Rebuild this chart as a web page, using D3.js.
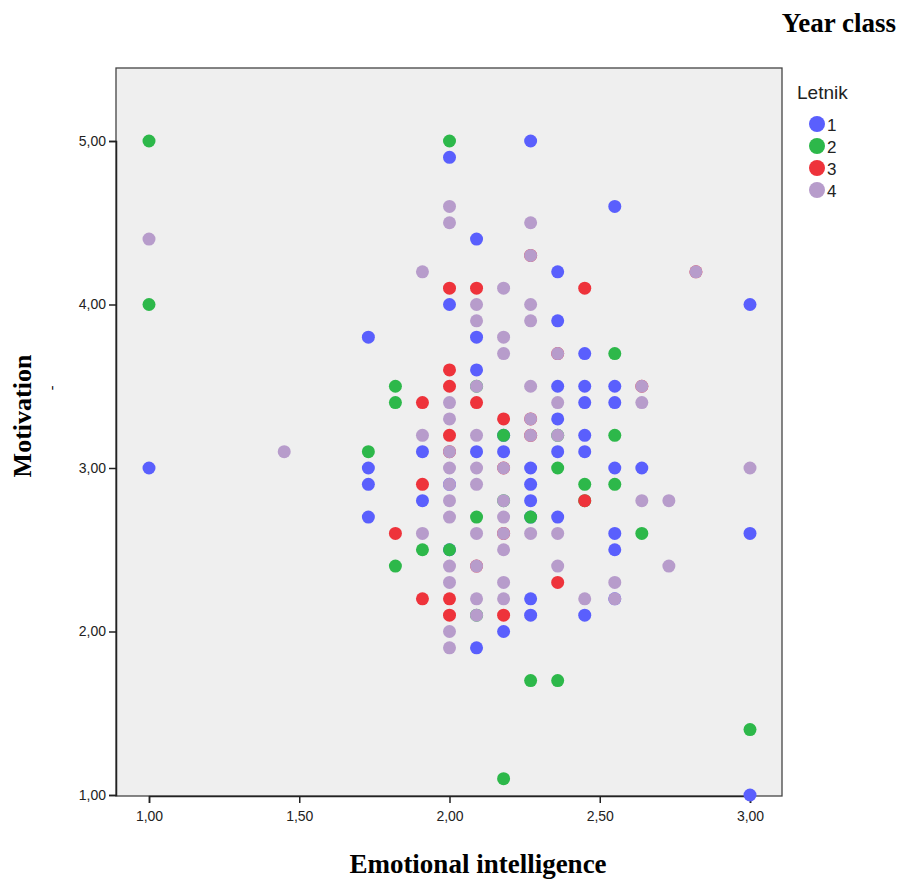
<!DOCTYPE html>
<html>
<head>
<meta charset="utf-8">
<script src="https://cdn.jsdelivr.net/npm/d3@7"></script>
<style>
  body { margin: 0; background: #fff; }
  svg { display: block; }
</style>
</head>
<body>
<div id="chart"></div>
<script>
// Emotional intelligence (x) and Motivation (y) per year class
const letnik1 = [
  [1.00,3.0],[1.73,3.8],[1.73,3.0],[1.73,2.9],[1.73,2.7],
  [1.91,3.1],[1.91,2.8],
  [2.00,4.9],[2.00,4.0],[2.00,2.9],[2.00,2.5],
  [2.09,4.4],[2.09,3.8],[2.09,3.6],[2.09,3.1],[2.09,1.9],
  [2.18,3.2],[2.18,3.1],[2.18,2.0],
  [2.27,5.0],[2.27,3.0],[2.27,2.9],[2.27,2.8],[2.27,2.7],[2.27,2.2],[2.27,2.1],
  [2.36,4.2],[2.36,3.9],[2.36,3.5],[2.36,3.3],[2.36,3.1],[2.36,2.7],
  [2.45,3.7],[2.45,3.5],[2.45,3.4],[2.45,3.2],[2.45,3.1],[2.45,2.1],
  [2.55,4.6],[2.55,3.5],[2.55,3.4],[2.55,3.0],[2.55,2.6],[2.55,2.5],[2.55,2.2],
  [2.64,3.0],
  [3.00,4.0],[3.00,2.6],[3.00,1.0]
];
const letnik2 = [
  [1.00,5.0],[1.00,4.0],
  [1.73,3.1],
  [1.82,3.5],[1.82,3.4],[1.82,2.4],
  [1.91,2.5],
  [2.00,5.0],[2.00,2.5],
  [2.09,3.5],[2.09,2.7],[2.09,2.1],
  [2.18,3.2],[2.18,2.8],[2.18,1.1],
  [2.27,2.7],[2.27,1.7],
  [2.36,3.2],[2.36,3.0],[2.36,1.7],
  [2.45,2.9],[2.45,2.8],
  [2.55,3.7],[2.55,3.2],[2.55,2.9],
  [2.64,2.6],
  [3.00,1.4]
];
const letnik3 = [
  [1.82,2.6],
  [1.91,3.4],[1.91,2.9],[1.91,2.2],
  [2.00,4.1],[2.00,3.6],[2.00,3.5],[2.00,3.2],[2.00,3.1],[2.00,2.2],[2.00,2.1],
  [2.09,4.1],[2.09,3.4],[2.09,2.4],
  [2.18,3.3],[2.18,3.0],[2.18,2.6],[2.18,2.1],
  [2.27,4.3],[2.27,3.3],[2.27,3.2],
  [2.36,3.7],[2.36,2.3],
  [2.45,4.1],[2.45,2.8],
  [2.64,3.5],
  [2.82,4.2]
];
const letnik4 = [
  [1.00,4.4],[1.45,3.1],
  [1.91,4.2],[1.91,3.2],[1.91,2.6],
  [2.00,4.6],[2.00,4.5],[2.00,3.4],[2.00,3.3],[2.00,3.1],[2.00,3.0],[2.00,2.9],
  [2.00,2.8],[2.00,2.7],[2.00,2.4],[2.00,2.3],[2.00,2.0],[2.00,1.9],
  [2.09,4.0],[2.09,3.9],[2.09,3.5],[2.09,3.2],[2.09,3.0],[2.09,2.9],[2.09,2.6],
  [2.09,2.4],[2.09,2.2],[2.09,2.1],
  [2.18,4.1],[2.18,3.8],[2.18,3.7],[2.18,3.0],[2.18,2.8],[2.18,2.7],[2.18,2.6],
  [2.18,2.5],[2.18,2.3],[2.18,2.2],
  [2.27,4.5],[2.27,4.3],[2.27,4.0],[2.27,3.9],[2.27,3.5],[2.27,3.3],[2.27,3.2],[2.27,2.6],
  [2.36,3.7],[2.36,3.4],[2.36,3.2],[2.36,2.6],[2.36,2.4],
  [2.45,2.2],
  [2.55,2.3],[2.55,2.2],
  [2.64,3.5],[2.64,3.4],[2.64,2.8],
  [2.73,2.8],[2.73,2.4],
  [2.82,4.2],
  [3.00,3.0]
];

const groupNames = ["1", "2", "3", "4"];
const groupColors = ["#5a5ffd", "#2db84a", "#ee333b", "#b79ccb"];
const xTicks = [1.0, 1.5, 2.0, 2.5, 3.0];
const yTicks = [1.0, 2.0, 3.0, 4.0, 5.0];

const width = 899, height = 881;
const frame = {left: 116, right: 782, top: 68, bottom: 796};

const svg = d3.select("#chart").append("svg")
    .attr("width", width)
    .attr("height", height);

const x = d3.scaleLinear().domain([1, 3]).range([149, 750]);
const y = d3.scaleLinear().domain([1, 5]).range([795, 141]);
const color = d3.scaleOrdinal().domain(groupNames).range(groupColors);

// plot background
svg.append("rect")
    .attr("x", frame.left)
    .attr("y", frame.top)
    .attr("width", frame.right - frame.left)
    .attr("height", frame.bottom - frame.top)
    .attr("fill", "#efefef")
    .attr("stroke", "#444")
    .attr("stroke-width", 1.3);

const fmt = d => d.toFixed(2).replace(".", ",");

// Y axis
const yAxis = svg.append("g")
    .attr("transform", `translate(${frame.left},0)`)
    .call(d3.axisLeft(y).tickValues(yTicks).tickFormat(fmt).tickSize(7).tickPadding(3));
yAxis.select(".domain").attr("stroke", "#222").attr("stroke-width", 1.5);
yAxis.selectAll(".tick line").attr("stroke", "#222").attr("stroke-width", 1.5);
yAxis.selectAll("text")
    .style("font-family", "'Liberation Sans', Arial, sans-serif")
    .style("font-size", "14px")
    .attr("fill", "#222");

// X axis
const xAxis = svg.append("g")
    .attr("transform", `translate(0,${frame.bottom})`)
    .call(d3.axisBottom(x).tickValues(xTicks).tickFormat(fmt).tickSize(7).tickPadding(8));
xAxis.select(".domain").attr("stroke", "#222").attr("stroke-width", 1.5);
xAxis.selectAll(".tick line").attr("stroke", "#222").attr("stroke-width", 1.5);
xAxis.selectAll("text")
    .style("font-family", "'Liberation Sans', Arial, sans-serif")
    .style("font-size", "14px")
    .attr("fill", "#222");

// points, drawn group by group
const series = [letnik1, letnik2, letnik3, letnik4];
series.forEach((pts, i) => {
    svg.append("g")
        .selectAll("circle")
        .data(pts)
        .enter()
        .append("circle")
        .attr("cx", d => x(d[0]))
        .attr("cy", d => y(d[1]))
        .attr("r", 6.5)
        .attr("fill", color(groupNames[i]));
});

// legend
const legend = svg.append("g")
    .attr("transform", "translate(797,0)");
legend.append("text")
    .attr("x", 0)
    .attr("y", 99)
    .style("font-family", "'Liberation Sans', Arial, sans-serif")
    .style("font-size", "19px")
    .attr("fill", "#222")
    .text("Letnik");
const items = legend.selectAll(".legend-item")
    .data(groupNames)
    .enter()
    .append("g")
    .attr("transform", (d, i) => `translate(0,${124 + i * 22})`);
items.append("circle")
    .attr("cx", 20)
    .attr("cy", 0)
    .attr("r", 8)
    .attr("fill", d => color(d));
items.append("text")
    .attr("x", 30)
    .attr("y", 7)
    .style("font-family", "'Liberation Sans', Arial, sans-serif")
    .style("font-size", "17px")
    .attr("fill", "#222")
    .text(d => d);

// titles
svg.append("text")
    .attr("x", 896)
    .attr("y", 32)
    .attr("text-anchor", "end")
    .style("font-family", "'Liberation Serif', 'Times New Roman', serif")
    .style("font-weight", "bold")
    .style("font-size", "27px")
    .text("Year class");

svg.append("text")
    .attr("transform", "translate(31,416) rotate(-90)")
    .attr("text-anchor", "middle")
    .style("font-family", "'Liberation Serif', 'Times New Roman', serif")
    .style("font-weight", "bold")
    .style("font-size", "26px")
    .text("Motivation");

svg.append("text")
    .attr("transform", "translate(56,388) rotate(-90)")
    .attr("text-anchor", "middle")
    .style("font-family", "'Liberation Serif', 'Times New Roman', serif")
    .style("font-size", "14px")
    .text("-");

svg.append("text")
    .attr("x", 478)
    .attr("y", 873)
    .attr("text-anchor", "middle")
    .style("font-family", "'Liberation Serif', 'Times New Roman', serif")
    .style("font-weight", "bold")
    .style("font-size", "27px")
    .text("Emotional intelligence");
</script>
</body>
</html>
